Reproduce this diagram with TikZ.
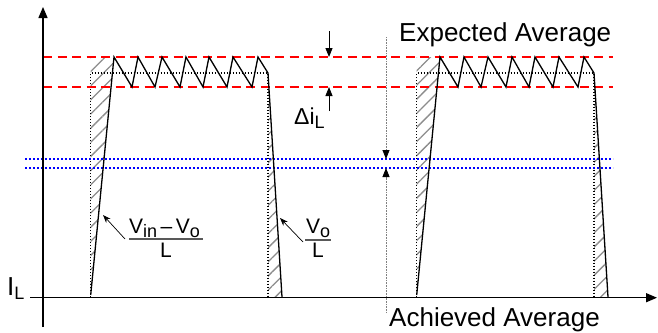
\documentclass[tikz,border=0pt]{standalone}
\usepackage{fontspec}
\setmainfont{Liberation Sans}
\usetikzlibrary{arrows.meta,patterns.meta}
\newcommand{\mysub}[1]{\raisebox{-4pt}{\fontsize{18}{18}\selectfont #1}}
\begin{document}
\begin{tikzpicture}[x=1pt,y=-1pt,
  axis/.style={line width=1.4pt,black},
  wave/.style={line width=1.3pt,black,line join=miter},
  ideal/.style={line width=1.1pt,black,dash pattern=on 1.5pt off 1.5pt},
  reddash/.style={line width=1.4pt,red,dash pattern=on 9pt off 5.5pt},
  bluedot/.style={line width=1.5pt,blue,dash pattern=on 2pt off 2pt},
  hatch/.style={pattern={Lines[angle=45,distance=10pt,line width=1.3pt]},pattern color=gray!90},
  guide/.style={line width=0.8pt,gray,dash pattern=on 1pt off 0.6pt,-{Triangle[length=9pt,width=7pt,color=black]}},
  dimarrow/.style={line width=0.9pt,black,-{Triangle[length=9pt,width=7pt]}},
  ptr/.style={line width=0.7pt,black,-{Stealth[length=8pt,width=6pt]}},
  lbl/.style={inner sep=0pt,anchor=base west,font=\fontsize{26}{26}\selectfont},
  frac/.style={inner sep=0pt,anchor=base west,font=\fontsize{21}{21}\selectfont}]
\useasboundingbox (0,0) rectangle (658,332);

% hatched areas and ideal (dotted) pulse, two pulses
\foreach \o in {0,326}{
  \begin{scope}[xshift=\o pt]
    \fill[hatch] (90.7,57) -- (114,57) -- (90.7,296) -- cycle;
    \fill[hatch] (268,73) -- (282,297) -- (268,297) -- cycle;
    \draw[ideal] (90.7,297) -- (90.7,73) -- (268,73) -- (268,297);
  \end{scope}
}

% reference levels
\draw[reddash] (43,57) -- (613,57);
\draw[reddash] (43,87) -- (613,87);
\draw[bluedot] (25,159) -- (613,159);
\draw[bluedot] (25,168) -- (613,168);

% actual inductor current
\foreach \o in {0,326}{
  \begin{scope}[xshift=\o pt]
    \draw[wave] (90.7,295) -- (114,57) -- (132,87) -- (138,57) -- (155,87) -- (162,57)
      -- (180,87) -- (186,57) -- (203,87) -- (209,57) -- (227,87) -- (233,57)
      -- (252,87) -- (258,57) -- (268,73) -- (282,297);
  \end{scope}
}

% axes
\coordinate (yb) at (43,327);
\coordinate (yt) at (43,7);
\coordinate (xl) at (30,297.7);
\coordinate (xr) at (657,297.7);
\draw[axis,-{Triangle[length=11pt,width=9pt]}] (yb) -- (yt);
\draw[axis,-{Triangle[length=11pt,width=9pt]}] (xl) -- (xr);

% delta i_L arrows
\coordinate (da1) at (329,31);
\coordinate (da2) at (329,57);
\coordinate (db1) at (329,111);
\coordinate (db2) at (329,87);
\draw[dimarrow] (da1) -- (da2);
\draw[dimarrow] (db1) -- (db2);

% expected / achieved guides
\coordinate (ga1) at (386,37);
\coordinate (ga2) at (386,159);
\coordinate (gb1) at (386,313);
\coordinate (gb2) at (386,168);
\draw[guide] (ga1) -- (ga2);
\draw[guide] (gb1) -- (gb2);

% labels
\node[lbl] (exp) at (399,41) {Expected Average};
\node[lbl] (ach) at (389,326) {Achieved Average};
\node[lbl] (il) at (7,295) {I\mysub{L}};
\node[lbl,font=\fontsize{23}{23}\selectfont] (dil) at (294,124) {Δi\mysub{L}};

% slope fractions
\node[frac] (n1) at (129,233) {V\mysub{in}\,–\,V\mysub{o}};
\draw[line width=1.2pt,gray!70!black] (129,239) -- (203,239);
\node[frac,anchor=base] (d1) at (166,257) {L};
\coordinate (p1s) at (125,239);
\coordinate (p1e) at (103,215);
\draw[ptr] (p1s) -- (p1e);

\node[frac] (n2) at (306,233) {V\mysub{o}};
\draw[line width=1.2pt,gray!70!black] (305,240) -- (331,240);
\node[frac,anchor=base] (d2) at (318,257) {L};
\coordinate (p2s) at (303,242);
\coordinate (p2e) at (280,218);
\draw[ptr] (p2s) -- (p2e);
\end{tikzpicture}
\end{document}
